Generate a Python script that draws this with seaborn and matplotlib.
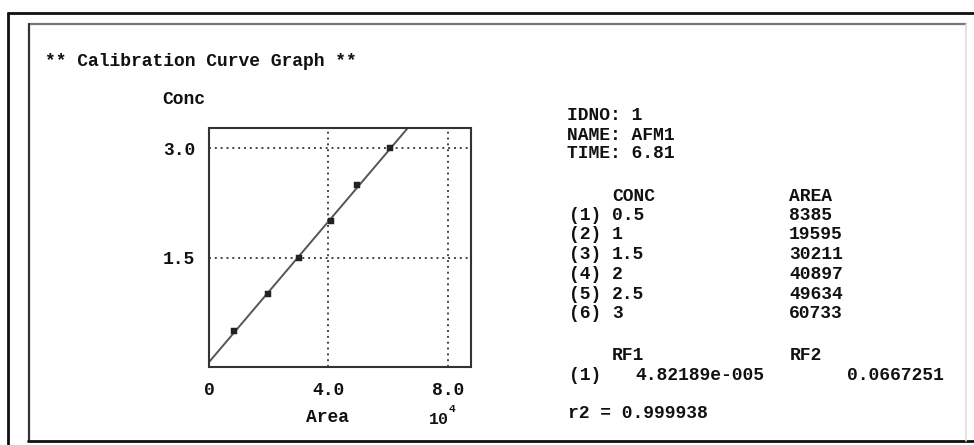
import matplotlib
matplotlib.use("Agg")
import matplotlib.pyplot as plt
from matplotlib.lines import Line2D
import numpy as np
import pandas as pd
import seaborn as sns

# ---- data ----
conc = [0.5, 1, 1.5, 2, 2.5, 3]
area = [8385, 19595, 30211, 40897, 49634, 60733]
conc_labels = ["0.5", "1", "1.5", "2", "2.5", "3"]
rf1 = 4.82189e-005
rf2 = 0.0667251
r2 = 0.999938
idno = "1"
name = "AFM1"
time_ = "6.81"
x_ticks = [0, 4, 8]
x_tick_labels = ["0", "4.0", "8.0"]
y_ticks = [1.5, 3.0]
y_tick_labels = ["1.5", "3.0"]
x_scale = 1e4

sns.set_theme(style="white")
plt.rcParams["font.family"] = ["Liberation Mono", "DejaVu Sans Mono"]
plt.rcParams["font.weight"] = "bold"

W, H = 974, 445
fig = plt.figure(figsize=(W / 100, H / 100), dpi=100)
fig.patch.set_facecolor("white")


def px(x, y):
    return x / W, 1 - y / H


# axes placement
L, R, T, B = 209, 471, 128, 367
ax = fig.add_axes([L / W, 1 - B / H, (R - L) / W, (B - T) / H])

df = pd.DataFrame({"x": np.array(area) / x_scale, "conc": conc})
xmax, ymax = 8.77, 3.275
fit = pd.DataFrame({"x": [0.0, xmax]})
fit["y"] = rf1 * fit["x"] * x_scale + rf2

sns.lineplot(data=fit, x="x", y="y", ax=ax, color="#555555", lw=1.4)
sns.scatterplot(data=df, x="x", y="conc", ax=ax, color="#222222", marker="s",
                s=16, edgecolor="#222222", zorder=5)

ax.set_xlim(0, xmax)
ax.set_ylim(0, ymax)
ax.set_xticks(x_ticks)
ax.set_xticklabels(x_tick_labels)
ax.set_yticks(y_ticks)
ax.set_yticklabels(y_tick_labels)
ax.tick_params(axis="both", length=0, labelsize=13)
ax.tick_params(axis="x", pad=11)
ax.tick_params(axis="y", pad=10)
for lab in ax.get_xticklabels() + ax.get_yticklabels():
    lab.set_fontweight("bold")
    lab.set_color("#111111")
ax.set_xlabel("")
ax.set_ylabel("")
ax.grid(True, color="#444444", linestyle=(0, (1, 2)), lw=1.4)
for s in ax.spines.values():
    s.set_color("#333333")
    s.set_linewidth(1.5)

# frame lines
def hline(y, x0, x1, c="#111111", lw=2.0):
    fig.add_artist(Line2D([x0 / W, x1 / W], [1 - y / H, 1 - y / H], color=c, lw=lw))

def vline(x, y0, y1, c="#111111", lw=2.0):
    fig.add_artist(Line2D([x / W, x / W], [1 - y0 / H, 1 - y1 / H], color=c, lw=lw))

hline(13, 8, 974)
vline(8, 13, 445)
hline(24, 29, 966, c="#777777", lw=1.6)
vline(29, 24, 441, c="#333333", lw=1.6)
hline(441, 28, 974, c="#111111", lw=2.0)
vline(966, 24, 441, c="#dddddd", lw=1.2)

fs = 13
def t(x, y, s, **kw):
    fig.text(*px(x, y), s, fontsize=kw.pop("fontsize", fs), fontweight="bold",
             va="center", ha=kw.pop("ha", "left"), color="#111111", **kw)

t(45, 62, "** Calibration Curve Graph **")
t(162, 100, "Conc")
t(328, 418, "Area", ha="center")
fig.text(*px(429, 419), "10", fontsize=12, va="center", ha="left", color="#111111")
fig.text(*px(449, 409), "4", fontsize=8, va="center", ha="left", color="#111111")

# right info block
t(567, 115, f"IDNO: {idno}")
t(567, 135, f"NAME: {name}")
t(567, 154, f"TIME: {time_}")
t(612, 196, "CONC")
t(789, 196, "AREA")
y0 = 215
step = 19.8
for i, (c, a) in enumerate(zip(conc_labels, area)):
    yy = y0 + i * step
    t(569, yy, f"({i + 1})")
    t(612, yy, c)
    t(789, yy, f"{a}")
t(612, 356, "RF1")
t(790, 356, "RF2")
t(569, 375, "(1)")
t(635, 375, f"{rf1:.5e}".replace("e-05", "e-005"))
t(847, 375, f"{rf2:.7f}")
t(568, 414, f"r2 = {r2}")

fig.savefig("out.png", dpi=100, facecolor="white")
